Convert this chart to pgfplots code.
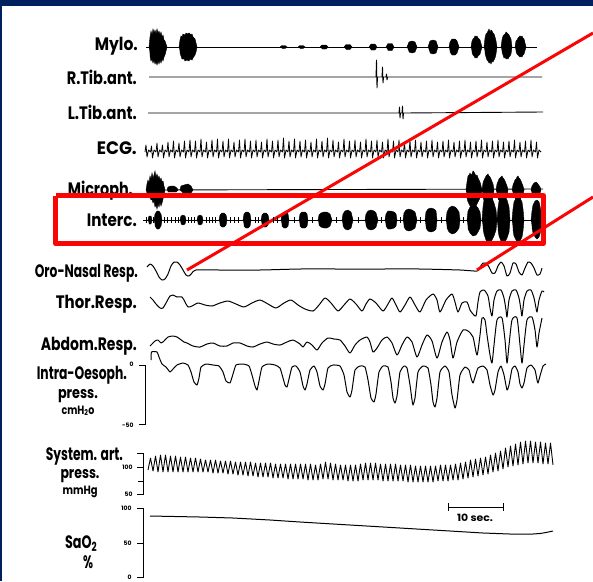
\documentclass[border=0pt]{standalone}
\usepackage{pgfplots}
\pgfplotsset{compat=1.18}
\usepackage{graphicx}
\usepackage{fontspec}
\setmainfont{Poppins}
\definecolor{navy}{RGB}{0,32,96}
\definecolor{rred}{RGB}{250,5,5}
\newcommand{\lbl}{\fontsize{18}{18}\selectfont\bfseries}
\newcommand{\sml}{\fontsize{10}{10}\selectfont\bfseries}
\newcommand{\unit}{\fontsize{12}{12}\selectfont\bfseries}
\newcommand{\tny}{\fontsize{6}{6}\selectfont\bfseries}
\newsavebox{\fitbox}
\newcommand{\fitw}[2]{\sbox{\fitbox}{#2}\pgfmathsetmacro{\fitsx}{#1/\the\wd\fitbox}\scalebox{\fitsx}[1]{\usebox{\fitbox}}}
\pgfplotsset{tr/.style={black, line width=1pt, mark=none, line join=round},
  thin tr/.style={black, line width=0.9pt, mark=none, line join=round},
  blob/.style={fill=black, draw=black, line width=0.4pt, mark=none}}
\begin{document}
\begin{tikzpicture}
\begin{axis}[scale only axis, width=593pt, height=581pt, xmin=0, xmax=593, ymin=0, ymax=581,
  y dir=reverse, hide axis, clip=true]
\fill[white] (0,0) rectangle (593,581);
\fill[navy] (0,0) rectangle (593,6);
\fill[navy] (0,0) rectangle (2,581);
% ---- Mylo
\addplot[thin tr] coordinates {(146,47)(537,47)};
\addplot[blob] coordinates {(149,47)(150,37)(151,31)(152,35)(153,29)(154,33)(155,30)(156,34)(157,29)(158,33)(159,31)(160,35)(161,32)(162,37)(163,35)(164,40)(165,41)(166,44)(167,47)(166,51)(165,55)(164,57)(163,61)(162,59)(161,63)(160,60)(159,64)(158,61)(157,65)(156,62)(155,64)(154,60)(153,63)(152,59)(151,61)(150,56)};
\addplot[blob] coordinates {(179,47)(180,40)(181,36)(182,37)(183,34)(185,35)(186,33)(188,34)(189,33)(191,35)(192,34)(193,37)(195,39)(196,43)(197,47)(196,52)(195,55)(193,58)(192,60)(190,59)(189,61)(187,60)(185,61)(184,59)(182,59)(181,56)(180,53)};
\addplot[blob] coordinates {(280,47)(282,45.5)(285,45.5)(287,47)(285,48.5)(282,48.5)};
\addplot[blob] coordinates {(298,47)(300,45.5)(303,45.5)(305,47)(303,48.5)(300,48.5)};
\addplot[blob] coordinates {(320,47)(322,45)(326,45)(328,47)(326,49)(322,49)};
\addplot[blob] coordinates {(344,47)(346,44.5)(350,44.5)(352,47)(350,49.5)(346,49.5)};
\addplot[blob] coordinates {(369,47)(371,44)(375,44)(377,47)(375,50)(371,50)};
\addplot[blob] coordinates {(386,47)(388,43.5)(392,43.5)(394,47)(392,50.5)(388,50.5)};
\addplot[blob] coordinates {(407,47)(409,42)(412,41)(415,42)(417,47)(415,52)(412,53)(409,52)};
\addplot[blob] coordinates {(428,47)(430,41)(433,40)(436,41)(438,47)(436,53)(433,54)(430,53)};
\addplot[blob] coordinates {(449,47)(450,42)(452,39)(455,39)(457,41)(459,47)(457,53)(455,55)(452,55)(450,52)};
\addplot[blob] coordinates {(471,47)(472,41)(473,39)(474,38)(475,36)(476,37)(477,36)(478,38)(479,39)(480,40)(482,47)(480,54)(479,55)(478,56)(477,58)(476,57)(475,58)(474,56)(473,55)(472,53)};
\addplot[blob] coordinates {(484,47)(485,38)(486,34)(487,33)(488,31)(489,29)(490,32)(491,30)(492,31)(493,33)(494,34)(495,37)(496,41)(497,47)(496,54)(495,58)(494,60)(493,62)(492,61)(491,64)(490,62)(489,63)(488,61)(487,60)(486,57)(485,53)};
\addplot[blob] coordinates {(501,47)(502,40)(503,36)(504,35)(505,34)(506,32)(507,33)(508,34)(509,35)(510,37)(511,39)(512,47)(511,54)(510,56)(509,57)(508,59)(507,58)(506,59)(505,57)(504,58)(503,55)(502,52)};
\addplot[blob] coordinates {(515,47)(516,41)(517,40)(518,38)(519,37)(520,36)(521,37)(522,36)(523,38)(524,39)(526,47)(524,54)(523,55)(522,57)(521,56)(520,57)(519,56)(518,55)(517,54)(516,52)};
% ---- R.Tib.ant.
\addplot[thin tr] coordinates {(149,77)(376,77)(376.5,60)(377,88)(377.5,77)(382,77)(382.5,67)(383,83)(383.5,77)(386,77)(386.5,74)(387,80)(387.5,77)(542,77)};
% ---- L.Tib.ant.
\addplot[thin tr] coordinates {(148,113)(399,113)(399.5,107)(400,118)(400.5,113)(402,113)(402.5,106)(403,119)(403.5,113)(543,112)};
% ---- ECG
\addplot[black, line width=0.8pt, mark=none, line join=round] coordinates {
(145,152)(146,145)(147,157)(148.5,150)(150.5,152)(151.5,146)(152.5,158)(154,150)
(156,152)(157,143)(158,157)(159.5,150)(161.5,152)(162.5,145)(163.5,158)(165,150)
(167,152)(168,142)(169,157)(170.5,150)(172.5,152)(173.5,141)(174.5,158)(176,150)
(178,152)(179,143)(180,157)(181.5,150)(183.5,152)(184.5,141)(185.5,158)(187,150)
(189,152)(190,140)(191,157)(192.5,150)(194.5,152)(195.5,141)(196.5,158)(198,150)
(200,152)(201,139)(202,157)(203.5,150)(205.5,152)(206.5,142)(207.5,158)(209,150)
(211,152)(212,140)(213,157)(214.5,150)(216.5,152)(217.5,139)(218.5,158)(220,150)
(222,152)(223,141)(224,157)(225.5,150)(227.5,152)(228.5,139)(229.5,158)(231,150)
(233,152)(234,142)(235,157)(236.5,150)(238.5,152)(239.5,140)(240.5,158)(242,150)
(244,152)(245,139)(246,157)(247.5,150)(249.5,152)(250.5,141)(251.5,158)(253,150)
(255,152)(256,140)(257,157)(258.5,150)(260.5,152)(261.5,142)(262.5,158)(264,150)
(266,152)(267,139)(268,157)(269.5,150)(271.5,152)(272.5,141)(273.5,158)(275,150)
(277,152)(278,140)(279,157)(280.5,150)(282.5,152)(283.5,138)(284.5,158)(286,150)
(288,152)(289,141)(290,157)(291.5,150)(293.5,152)(294.5,139)(295.5,158)(297,150)
(299,152)(300,141)(301,157)(302.5,150)(304.5,152)(305.5,140)(306.5,158)(308,150)
(310,152)(311,142)(312,157)(313.5,150)(315.5,152)(316.5,139)(317.5,158)(319,150)
(321,152)(322,141)(323,157)(324.5,150)(326.5,152)(327.5,138)(328.5,158)(330,150)
(332,152)(333,140)(334,157)(335.5,150)(337.5,152)(338.5,142)(339.5,158)(341,150)
(343,152)(344,139)(345,157)(346.5,150)(348.5,152)(349.5,141)(350.5,158)(352,150)
(354,152)(355,140)(356,157)(357.5,150)(359.5,152)(360.5,142)(361.5,158)(363,150)
(365,152)(366,139)(367,157)(368.5,150)(370.5,152)(371.5,141)(372.5,158)(374,150)
(376,152)(377,140)(378,157)(379.5,150)(381.5,152)(382.5,142)(383.5,158)(385,150)
(387,152)(388,139)(389,157)(390.5,150)(392.5,152)(393.5,141)(394.5,158)(396,150)
(398,152)(399,140)(400,157)(401.5,150)(403.5,152)(404.5,142)(405.5,158)(407,150)
(409,152)(410,141)(411,157)(412.5,150)(414.5,152)(415.5,140)(416.5,158)(418,150)
(420,152)(421,142)(422,157)(423.5,150)(425.5,152)(426.5,141)(427.5,158)(429,150)
(431,152)(432,140)(433,157)(434.5,150)(436.5,152)(437.5,142)(438.5,158)(440,150)
(442,152)(443,141)(444,157)(445.5,150)(447.5,152)(448.5,140)(449.5,158)(451,150)
(453,152)(454,142)(455,157)(456.5,150)(458.5,152)(459.5,141)(460.5,158)(462,150)
(464,152)(465,140)(466,157)(467.5,150)(469.5,152)(470.5,142)(471.5,158)(473,150)
(475,152)(476,141)(477,157)(478.5,150)(480.5,152)(481.5,140)(482.5,158)(484,150)
(486,152)(487,142)(488,157)(489.5,150)(491.5,152)(492.5,141)(493.5,158)(495,150)
(497,152)(498,140)(499,157)(500.5,150)(502.5,152)(503.5,142)(504.5,158)(506,150)
(508,152)(509,141)(510,157)(511.5,150)(513.5,152)(514.5,140)(515.5,158)(517,150)
(519,152)(520,142)(521,157)(522.5,150)(524.5,152)(525.5,141)(526.5,158)(528,150)
(530,152)(531,140)(532,157)(533.5,150)(535.5,152)(536.5,142)(537.5,158)(539,150)(541,152)};
% ---- Microph.
\addplot[thin tr] coordinates {(146,190)(543,189)};
\addplot[blob] coordinates {(146,190)(147,184)(148,180)(149,183)(150,176)(151,179)(152,173)(153,178)(154,175)(155,171)(156,177)(157,174)(158,178)(159,176)(160,180)(161,178)(162,182)(163,181)(164,186)(165,190)(164,195)(163,199)(162,203)(161,206)(160,202)(159,207)(158,204)(157,209)(156,205)(155,207)(154,201)(153,203)(152,199)(151,200)(150,197)(149,198)(148,194)(147,195)};
\addplot[blob] coordinates {(167,190)(168,187)(171,186)(174,186)(177,188)(178,190)(176,192)(172,192)(168,192)};
\addplot[blob] coordinates {(180,190)(181,186)(184,185)(188,184)(191,186)(193,190)(191,193)(187,194)(183,193)};
\addplot[blob] coordinates {(466,190)(467,182)(468,176)(469,175)(470,173)(471,175)(472,174)(473,171)(474,172)(475,174)(476,176)(477,175)(478,178)(480,182)(482,190)(480,198)(478,202)(476,206)(474,205)(472,207)(470,206)(468,202)(467,198)};
\addplot[blob] coordinates {(482,190)(483,183)(484,180)(485,178)(486,176)(487,175)(488,174)(489,176)(490,177)(491,179)(493,184)(494,190)(493,197)(490,203)(487,205)(485,202)(483,198)};
\addplot[blob] coordinates {(496,190)(497,184)(499,179)(500,178)(501,177)(502,176)(503,178)(504,179)(505,181)(507,186)(508,190)(507,195)(504,200)(501,202)(498,199)};
\addplot[blob] coordinates {(512,190)(513,185)(515,180)(516,179)(517,177)(518,176)(519,178)(520,179)(521,181)(523,186)(524,190)(523,195)(520,199)(517,200)(514,197)};
\addplot[blob] coordinates {(531,190)(532,186)(534,183)(536,182)(538,184)(540,187)(541,190)(540,193)(537,196)(534,195)(532,194)};
% ---- Interc.
\addplot[thin tr] coordinates {(143,220)(543,220)};
\addplot[only marks, mark=|, mark size=3pt, mark options={line width=0.8pt, black}] coordinates {(146,220)(153,220)(164,220)(167,220)(171,220)(175,220)(178,220)(188,220)(191,220)(194,220)(206,220)(209,220)(212,220)(215,220)(230,220)(234,220)(238,220)(255,220)(258,220)(273,220)(277,220)(294,220)(312,220)(336,220)(358,220)(381,220)(400,220)(420,220)(441,220)(463,220)};
\addplot[blob] coordinates {(148,220)(149,216)(151,216)(152,220)(151,224)(149,224)};
\addplot[blob] coordinates {(154,220)(155,214)(157,211)(159,211)(161,214)(162,220)(161,226)(159,229)(157,229)(155,226)};
\addplot[blob] coordinates {(180,220)(181,216)(183,215)(185,216)(186,220)(185,224)(183,225)(181,224)};
\addplot[blob] coordinates {(197,220)(198,216)(200,215)(202,216)(203,220)(202,224)(200,225)(198,224)};
\addplot[blob] coordinates {(219,220)(220,215)(222,213)(224,213)(226,215)(227,220)(226,225)(224,227)(222,227)(220,225)};
\addplot[blob] coordinates {(243,220)(244,214)(246,212)(248,212)(250,214)(251,220)(250,226)(248,228)(246,228)(244,226)};
\addplot[blob] coordinates {(261,220)(262,215)(264,213)(266,213)(268,215)(269,220)(268,225)(266,227)(264,227)(262,225)};
\addplot[blob] coordinates {(281,220)(282,214)(284,212)(286,212)(288,214)(289,220)(288,226)(286,228)(284,228)(282,226)};
\addplot[blob] coordinates {(299,220)(300,214)(302,212)(305,212)(307,214)(308,220)(307,226)(305,228)(302,228)(300,226)};
\addplot[blob] coordinates {(318,220)(319,215)(321,213)(324,212)(327,212)(330,214)(332,220)(330,226)(327,228)(324,228)(321,227)(319,225)};
\addplot[blob] coordinates {(342,220)(343,214)(345,211)(348,210)(351,212)(353,220)(351,228)(348,230)(345,229)(343,226)};
\addplot[blob] coordinates {(365,220)(366,214)(368,211)(371,210)(374,211)(376,213)(378,220)(376,227)(374,229)(371,230)(368,229)(366,226)};
\addplot[blob] coordinates {(385,220)(386,214)(388,211)(391,211)(394,212)(396,214)(397,220)(396,226)(394,228)(391,229)(388,229)(386,226)};
\addplot[blob] coordinates {(403,220)(404,213)(406,210)(409,209)(412,210)(415,212)(417,220)(415,228)(412,230)(409,231)(406,230)(404,227)};
\addplot[blob] coordinates {(425,220)(426,212)(428,209)(431,208)(434,209)(436,211)(437,220)(436,229)(434,231)(431,232)(428,231)(426,228)};
\addplot[blob] coordinates {(446,220)(447,212)(449,208)(452,206)(455,207)(457,209)(459,212)(460,220)(459,228)(457,231)(455,233)(452,234)(449,232)(447,228)};
\addplot[blob] coordinates {(467,220)(468,211)(470,207)(473,205)(476,206)(478,208)(480,212)(481,220)(480,228)(478,232)(476,235)(473,236)(470,233)(468,229)};
\addplot[blob] coordinates {(482,220)(483,207)(484,200)(486,196)(488,194)(490,195)(492,198)(494,203)(496,210)(497,220)(496,230)(494,236)(492,240)(490,243)(488,243)(486,240)(484,234)(483,228)};
\addplot[blob] coordinates {(497,220)(498,208)(499,201)(501,197)(503,195)(505,196)(507,200)(509,207)(510,220)(509,232)(507,238)(505,242)(503,243)(501,241)(499,236)(498,230)};
\addplot[blob] coordinates {(512,220)(513,209)(514,202)(516,198)(518,197)(520,198)(522,202)(523,209)(524,220)(523,231)(522,237)(520,241)(518,242)(516,240)(514,236)(513,230)};
\addplot[blob] coordinates {(531,220)(532,211)(533,205)(535,201)(537,200)(539,202)(540,206)(541,212)(542,220)(541,228)(540,234)(539,237)(537,239)(535,237)(533,233)(532,228)};
% ---- Oro-Nasal Resp.
\addplot[tr, smooth, tension=0.4] coordinates {(147,267)(150,264)(153,266)(156,271)(159,277)(162,280)(165,279)(168,274)(171,266)(174,262)(177,262)(180,265)(183,270)(186,275)(189,276)(192,273)(196,270)(220,270)(260,270)(300,269)(340,269)(380,269)(420,269)(460,270)(477,271)(480,267)(483,263)(486,263)(489,267)(492,273)(495,273)(498,266)(501,262)(504,266)(507,276)(510,273)(513,263)(516,264)(519,272)(522,275)(525,268)(528,262)(531,263)(534,268)(537,275)(540,274)(542,268)};
% ---- Thor.Resp.
\addplot[tr, smooth, tension=0.4] coordinates {(150,297)(153,300)(156,304)(160,308)(163,308)(166,303)(170,296)(173,295)(177,297)(182,297)(185,302)(188,307)(192,306)(198,303)(205,305)(212,306)(220,303)(228,301)(236,304)(244,307)(252,303)(260,300)(268,304)(276,308)(284,303)(291,300)(298,305)(305,309)(313,311)(319,305)(325,298)(331,303)(338,311)(344,305)(350,299)(356,304)(362,311)(366,304)(370,299)(376,303)(383,311)(388,304)(392,298)(396,305)(400,312)(405,305)(410,297)(415,305)(420,312)(426,300)(433,294)(437,300)(440,312)(446,300)(452,294)(455,302)(458,312)(462,303)(467,302)(470,310)(473,314)(476,316)(478,302)(480,292)(484,290)(488,296)(490,308)(492,316)(494,300)(497,291)(501,290)(504,298)(506,310)(507,317)(509,300)(512,291)(516,290)(519,298)(521,310)(522,316)(524,300)(527,291)(531,290)(534,298)(536,308)(537,312)(539,300)(542,291)(544,292)};
% ---- Abdom.Resp.
\addplot[tr, smooth, tension=0.4] coordinates {(150,346)(152,344)(155,341)(158,340)(161,343)(164,341)(168,337)(173,336)(177,337)(180,339)(184,342)(187,343)(193,346)(200,347)(207,344)(213,343)(220,346)(227,346)(233,343)(240,343)(247,346)(253,347)(260,344)(267,342)(273,344)(280,345)(287,342)(293,340)(300,344)(303,347)(307,342)(312,345)(317,350)(322,343)(328,338)(334,339)(340,340)(345,346)(350,353)(355,345)(360,340)(367,337)(370,342)(373,352)(377,348)(382,340)(387,337)(392,343)(397,355)(402,345)(407,337)(412,342)(417,357)(422,345)(427,335)(432,341)(437,358)(442,342)(447,332)(450,340)(453,358)(457,342)(463,330)(468,331)(473,337)(477,355)(480,335)(482,318)(485,320)(487,335)(490,355)(492,363)(494,345)(497,320)(502,318)(505,340)(507,363)(509,345)(512,320)(517,318)(520,345)(522,363)(524,345)(527,320)(532,317)(535,330)(537,347)(539,333)(542,318)};
% ---- Intra-Oesoph. press.
\addplot[tr, smooth, tension=0.3] coordinates {(151,360)(151.5,352)(157,352)(159,357)(162,364)(166,367)(170,372)(173,369)(177,365)(183,363)(188,365)(191,372)(194,382)(197,385)(199,378)(201,367)(206,364)(213,365)(219,366)(223,372)(226,381)(230,383)(233,374)(236,365)(243,364)(249,366)(252,375)(255,386)(257,390)(259,381)(262,367)(268,364)(275,365)(280,368)(283,378)(285,385)(287,387)(289,379)(292,367)(296,366)(300,372)(303,386)(305,390)(307,384)(310,370)(314,366)(317,372)(320,386)(323,390)(325,384)(328,368)(333,365)(340,366)(344,375)(347,392)(350,397)(352,390)(355,370)(360,366)(365,367)(368,380)(371,398)(374,402)(376,394)(379,372)(383,366)(388,367)(391,382)(393,398)(395,403)(397,396)(400,372)(404,366)(407,368)(410,385)(412,400)(413,405)(415,398)(418,372)(423,366)(428,368)(431,385)(433,402)(435,407)(437,398)(440,372)(445,366)(449,372)(452,395)(455,408)(457,400)(460,375)(465,367)(469,370)(471,378)(473,383)(475,377)(478,368)(483,366)(487,370)(490,385)(493,395)(495,390)(498,372)(501,366)(504,375)(507,390)(509,385)(512,369)(515,366)(518,372)(520,384)(522,388)(524,383)(527,368)(531,365)(535,370)(537,380)(538,383)(540,376)(543,366)(546,364)};
% ---- System. art. press.
\addplot[black, line width=0.9pt, mark=none, line join=round] coordinates {
(148,470)(150.5,458)(153,471)(155.5,456)(158,472)(160.5,455)(163,472)(165.5,455)(168,472)(170.5,456)
(173,472)(175.5,456)(178,472)(180.5,457)(183,472)(185.5,457)(188,472)(190.5,458)(193,472)(195.5,458)
(198,472)(200.5,459)(203,472)(205.5,460)(208,472)(210.5,460)(213,473)(215.5,460)(218,473)(220.5,461)
(223,473)(225.5,461)(228,474)(230.5,461)(233,474)(235.5,462)(238,475)(240.5,462)(243,475)(245.5,462)
(248,476)(250.5,462)(253,476)(255.5,463)(258,477)(260.5,463)(263,477)(265.5,463)(268,477)(270.5,463)
(273,478)(275.5,464)(278,478)(280.5,464)(283,478)(285.5,464)(288,479)(290.5,464)(293,479)(295.5,464)
(298,479)(300.5,464)(303,479)(305.5,464)(308,480)(310.5,464)(313,480)(315.5,465)(318,480)(320.5,464)
(323,479)(325.5,462)(328,479)(330.5,463)(333,480)(335.5,464)(338,480)(340.5,465)(343,480)(345.5,465)
(348,481)(350.5,465)(353,481)(355.5,465)(358,481)(360.5,464)(363,480)(365.5,463)(368,480)(370.5,463)
(373,480)(375.5,463)(378,480)(380.5,464)(383,481)(385.5,464)(388,481)(390.5,464)(393,481)(395.5,464)
(398,481)(400.5,465)(403,481)(405.5,465)(408,482)(410.5,465)(413,482)(415.5,466)(418,482)(420.5,466)
(423,482)(425.5,466)(428,482)(430.5,466)(433,482)(435.5,466)(438,481)(440.5,465)(443,481)(445.5,465)
(448,481)(450.5,465)(453,480)(455.5,464)(458,480)(460.5,463)(463,479)(465.5,462)(468,478)(470.5,460)
(473,477)(475.5,459)(478,476)(480.5,458)(483,475)(485.5,457)(488,474)(490.5,455)(493,472)(495.5,453)
(498,471)(500.5,451)(503,469)(505.5,448)(508,467)(510.5,446)(513,466)(515.5,444)(518,465)(520.5,442)
(523,464)(525.5,441)(528,463)(530.5,441)(533,463)(535.5,442)(538,463)(540.5,442)(543,464)(545.5,443)
(548,464)(550.5,443)(553,465)};
% ---- SaO2
\addplot[tr] coordinates {(150,516)(200,517)(233,518)(270,520)(300,522)(350,525)(400,528)(450,531)(483,533)(510,534)(533,534)(540,533.5)(546,532.5)(553,531)};
% ---- scale brackets
\draw[black, line width=0.9pt] (139,365) -- (145,365) -- (145,424) -- (139,424);
\node[anchor=east, font=\tny] at (137,364) {0};
\node[anchor=east, font=\tny] at (137,425) {-50};
\draw[black, line width=0.9pt] (137,453) -- (143,453) -- (143,494) -- (137,494);
\draw[black, line width=0.9pt] (137,467) -- (143,467);
\draw[black, line width=0.9pt] (138,481) -- (143,481);
\node[anchor=east, font=\tny] at (136,467) {100};
\node[anchor=east, font=\tny] at (136,494) {50};
\draw[black, line width=0.9pt] (137,508) -- (143,508) -- (143,577) -- (137,577);
\draw[black, line width=0.9pt] (137,543) -- (143,543);
\node[anchor=east, font=\tny] at (135,508) {100};
\node[anchor=east, font=\tny] at (135,543) {50};
\node[anchor=east, font=\tny] at (135,577) {0};
% ---- 10 sec bar
\draw[black, line width=1pt] (448,503) -- (448,511);
\draw[black, line width=1pt] (503,503) -- (503,511);
\draw[black, line width=1pt] (448,507) -- (503,507);
\node[anchor=base, font=\sml, inner sep=0pt] at (475,521) {\fitw{36}{10 sec.}};
% ---- labels
\node[anchor=base east, font=\lbl, inner sep=0pt] at (138,50) {\fitw{43}{Mylo.}};
\node[anchor=base east, font=\lbl, inner sep=0pt] at (137,84) {\fitw{70}{R.Tib.ant.}};
\node[anchor=base east, font=\lbl, inner sep=0pt] at (137,119) {\fitw{69}{L.Tib.ant.}};
\node[anchor=base east, font=\lbl, inner sep=0pt] at (137,154) {\fitw{40}{ECG.}};
\node[anchor=base east, font=\lbl, inner sep=0pt] at (133,195) {\fitw{65}{Microph.}};
\node[anchor=base east, font=\lbl, inner sep=0pt] at (137,226) {\fitw{50}{Interc.}};
\node[anchor=base east, font=\lbl, inner sep=0pt] at (138,277) {\fitw{103}{Oro-Nasal Resp.}};
\node[anchor=base east, font=\lbl, inner sep=0pt] at (137,308) {\fitw{81}{Thor.Resp.}};
\node[anchor=base east, font=\lbl, inner sep=0pt] at (137,350) {\fitw{96}{Abdom.Resp.}};
\node[anchor=base east, font=\lbl, inner sep=0pt] at (127,379) {\fitw{90}{Intra-Oesoph.}};
\node[anchor=base, font=\fontsize{16}{16}\selectfont\bfseries, inner sep=0pt] at (78,398) {\fitw{40}{press.}};
\node[anchor=base, font=\unit, inner sep=0pt] at (78,414) {\fitw{33}{cmH\textsubscript{2}o}};
\node[anchor=base east, font=\lbl, inner sep=0pt] at (123,460) {\fitw{77}{System. art.}};
\node[anchor=base, font=\fontsize{16}{16}\selectfont\bfseries, inner sep=0pt] at (80,478) {\fitw{39}{press.}};
\node[anchor=base, font=\unit, inner sep=0pt] at (80,494) {\fitw{35}{mmHg}};
\node[anchor=base, font=\lbl, inner sep=0pt] at (81,548) {\fitw{32}{SaO\textsubscript{2}}};
\node[anchor=base, font=\lbl, inner sep=0pt] at (88,568) {\fitw{10}{\%}};
% ---- red annotations
\addplot[rred, line width=5pt, mark=none, line join=round] coordinates {(55.5,195.5)(543.5,195.5)(543.5,243.5)(55.5,243.5)(55.5,195.5)};
\addplot[rred, line width=3pt, mark=none] coordinates {(187,270)(593,33)};
\addplot[rred, line width=3pt, mark=none] coordinates {(477,270)(593,197)};
\end{axis}
\end{tikzpicture}
\end{document}
